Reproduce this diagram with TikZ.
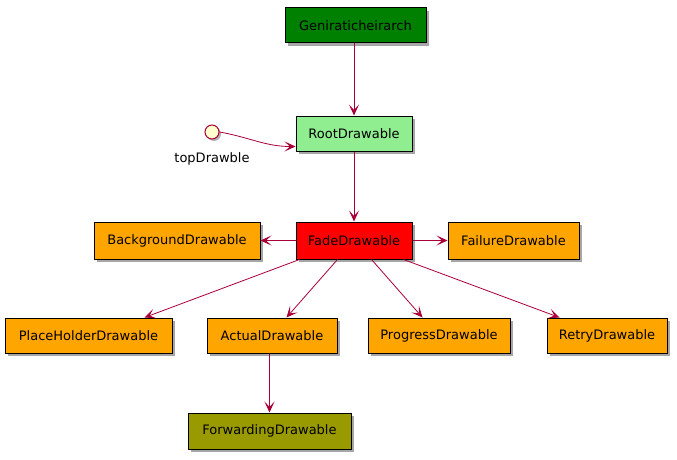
\documentclass[tikz,border=0pt]{standalone}
\usepackage{fontspec}
\setmainfont{DejaVu Sans}
\usetikzlibrary{arrows.meta,shadows,calc}
\definecolor{edgec}{HTML}{A80036}
\definecolor{boxorange}{HTML}{FFA500}
\definecolor{boxdkgreen}{HTML}{008000}
\definecolor{boxltgreen}{HTML}{90EE90}
\definecolor{boxolive}{HTML}{999900}
\definecolor{ifacefill}{HTML}{FEFECE}
\tikzset{
  lbl/.style={font=\fontsize{13}{15}\selectfont},
  cls/.style={lbl, draw=black, line width=1pt, inner sep=0pt,
    drop shadow={shadow xshift=3pt, shadow yshift=-3pt, opacity=0.35, fill=black}},
  conn/.style={draw=edgec, line width=0.8pt, -{Stealth[length=11pt,width=10pt,inset=5.5pt]}},
}
\begin{document}
\begin{tikzpicture}[x=1pt,y=-1pt]
\useasboundingbox (0,0) rectangle (677,460);
\node[cls, fill=boxdkgreen, minimum width=141pt, minimum height=35pt] (gen) at (355.5,25.5) {Geniraticheirarch};
\node[cls, fill=boxltgreen, minimum width=116pt, minimum height=35pt] (root) at (354,133.5) {RootDrawable};
\node[draw=edgec, line width=1pt, fill=ifacefill, circle, minimum size=14pt, inner sep=0pt,
  drop shadow={shadow xshift=2pt, shadow yshift=-2pt, opacity=0.3, fill=black}] (top) at (212,132) {};
\node[lbl, anchor=north] (toplbl) at (212,149) {topDrawble};
\node[cls, fill=red, minimum width=116pt, minimum height=37pt] (fade) at (354,240.5) {FadeDrawable};
\node[cls, fill=boxorange, minimum width=166pt, minimum height=37pt] (bg) at (177,240.5) {BackgroundDrawable};
\node[cls, fill=boxorange, minimum width=131pt, minimum height=37pt] (fail) at (513.5,240.5) {FailureDrawable};
\node[cls, fill=boxorange, minimum width=167pt, minimum height=35pt] (ph) at (88.5,335.5) {PlaceHolderDrawable};
\node[cls, fill=boxorange, minimum width=130pt, minimum height=35pt] (act) at (272,335.5) {ActualDrawable};
\node[cls, fill=boxorange, minimum width=142pt, minimum height=35pt] (prog) at (439,335.5) {ProgressDrawable};
\node[cls, fill=boxorange, minimum width=120pt, minimum height=35pt] (retry) at (607,335.5) {RetryDrawable};
\node[cls, fill=boxolive, minimum width=163pt, minimum height=36pt] (fwd) at (269.5,431) {ForwardingDrawable};

\draw[conn] (gen.south -| root.north) -- (root.north);
\draw[conn] (top.east) to[out=-10,in=180] ($(root.south west)+(0,-5)$);
\draw[conn] (root.south) -- (fade.north);
\draw[conn] (fade.west) -- (bg.east);
\draw[conn] (fade.east) -- (fail.east -| fail.west);
\draw[conn] ($(fade.south west)+(4,0)$) -- ($(ph.north west)+(140,0)$);
\draw[conn] ($(fade.south west)+(42,0)$) -- ($(act.north west)+(80,0)$);
\draw[conn] ($(fade.south west)+(76,0)$) -- ($(prog.north west)+(55,0)$);
\draw[conn] ($(fade.south west)+(108,0)$) -- ($(retry.north west)+(13,0)$);
\draw[conn] (act.south -| fwd.north) -- (fwd.north);
\end{tikzpicture}
\end{document}
